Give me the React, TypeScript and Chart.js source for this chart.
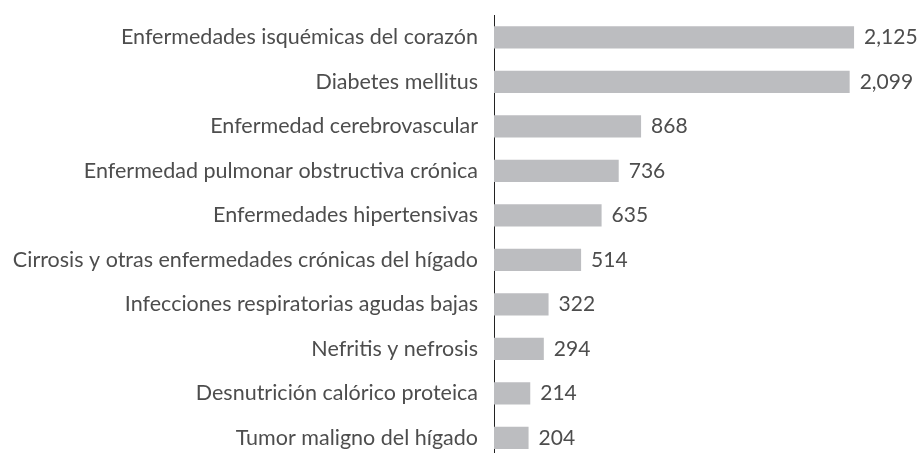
import React, { useEffect, useRef } from "react";
import { Chart, registerables } from "chart.js";

Chart.register(...registerables);

const categories = [
  "Enfermedades isquémicas del corazón",
  "Diabetes mellitus",
  "Enfermedad cerebrovascular",
  "Enfermedad pulmonar obstructiva crónica",
  "Enfermedades hipertensivas",
  "Cirrosis y otras enfermedades crónicas del hígado",
  "Infecciones respiratorias agudas bajas",
  "Nefritis y nefrosis",
  "Desnutrición calórico proteica",
  "Tumor maligno del hígado",
];

const values = [2125, 2099, 868, 736, 635, 514, 322, 294, 214, 204];

const FONT = "Lato, 'Open Sans', sans-serif";
const TEXT = "#4d4d4d";

const valueLabels = {
  id: "valueLabels",
  afterDatasetsDraw(chart: any) {
    const ctx = chart.ctx;
    const meta = chart.getDatasetMeta(0);
    ctx.save();
    ctx.font = `21px ${FONT}`;
    ctx.fillStyle = TEXT;
    ctx.textAlign = "left";
    ctx.textBaseline = "middle";
    meta.data.forEach((bar: any, i: number) => {
      const v = chart.data.datasets[0].data[i] as number;
      ctx.fillText(v.toLocaleString("en-US"), bar.x + 10, bar.y);
    });
    ctx.restore();
  },
};

export default function App() {
  const ref = useRef<HTMLCanvasElement | null>(null);
  useEffect(() => {
    if (!ref.current) return;
    const chart = new Chart(ref.current, {
      type: "bar",
      data: {
        labels: categories,
        datasets: [
          {
            data: values,
            backgroundColor: "#bcbdc0",
            borderWidth: 0,
            barPercentage: 0.5,
            categoryPercentage: 1,
          },
        ],
      },
      options: {
        indexAxis: "y",
        animation: false,
        responsive: false,
        layout: { padding: { top: 15, bottom: 2, right: 0, left: 0 } },
        plugins: { legend: { display: false }, tooltip: { enabled: false } },
        scales: {
          x: { display: false, min: 0, max: 2520 },
          y: {
            afterFit: (scale: any) => {
              scale.width = 494;
              scale.paddingTop = 0;
              scale.paddingBottom = 0;
            },
            grid: { display: false, drawTicks: false },
            border: { display: true, color: "#222", width: 1 },
            ticks: {
              padding: 16,
              color: TEXT,
              font: { family: FONT, size: 21.5 },
            },
          },
        },
      },
      plugins: [valueLabels],
    });
    return () => chart.destroy();
  }, []);
  return (
    <div style={{ position: "absolute", left: 0, top: 0, width: 921, height: 462 }}>
      <canvas ref={ref} width={921} height={462} style={{ display: "block" }} />
    </div>
  );
}
